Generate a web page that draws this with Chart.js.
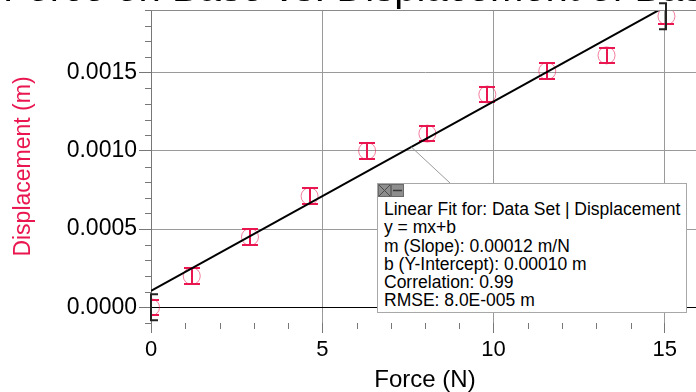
<!DOCTYPE html>
<html>
<head>
<meta charset="utf-8">
<script src="https://cdn.jsdelivr.net/npm/chart.js"></script>
<style>
  html, body { margin: 0; padding: 0; background: #fff; overflow: hidden; }
  #wrap { position: relative; width: 696px; height: 392px; overflow: hidden; }
  #plot { position: absolute; left: 0; top: 0; }
  #title { position: absolute; left: 3px; top: -33px; font: 40px "Liberation Sans", Arial, sans-serif; line-height: 40px; white-space: nowrap; color: #000; }
  #fitbox { position: absolute; left: 377px; top: 183px; width: 310px; height: 130px; box-sizing: border-box;
            border: 1px solid #a8a8a8; background: #fff; }
  #btns { position: absolute; left: 0; top: 0; height: 13px; }
  #fittext { position: absolute; left: 6px; top: 16px; font: 17.5px "Liberation Sans", Arial, sans-serif; line-height: 18.3px; color: #000; white-space: nowrap; }
</style>
</head>
<body>
<div id="wrap">
  <canvas id="plot" width="699" height="392"></canvas>
  <div id="title">Force on Base vs. Displacement of Base</div>
  <div id="fitbox">
    <div id="btns">
      <svg width="27" height="14" viewBox="0 0 27 14">
        <rect x="0.5" y="0.5" width="12" height="12" fill="#8e8e8e" stroke="#6a6a6a"/>
        <path d="M1 1 L12 12 M12 1 L1 12" stroke="#4a4a4a" stroke-width="1"/>
        <rect x="13.5" y="0.5" width="12" height="12" fill="#8e8e8e" stroke="#6a6a6a"/>
        <path d="M15 6.5 L24 6.5" stroke="#3a3a3a" stroke-width="1.5"/>
      </svg>
    </div>
    <div id="fittext"></div>
  </div>
</div>
<script>
// Data
const force = [0, 1.19, 2.89, 4.63, 6.31, 8.07, 9.82, 11.57, 13.3, 15.05];
const displacement = [0.0000, 0.00020, 0.00045, 0.00071, 0.00100, 0.00111, 0.00136, 0.00151, 0.00161, 0.00186];
const dispError = [0.00005, 0.00005, 0.00005, 0.00005, 0.00005, 0.00005, 0.00005, 0.00005, 0.00005, 0.00005];

// Linear fit  y = m x + b
const fitSlope = 0.000121;
const fitIntercept = 0.000105;
const fitX = [0, 15];
const fitLabelAt = 7.6;   // where the callout touches the fit line

const xTicks = [0, 5, 10, 15];
const xMinorTicks = [1, 2, 3, 4, 6, 7, 8, 9, 11, 12, 13, 14, 16];
const yTicks = [0, 0.0005, 0.0010, 0.0015];
const yMinorTicks = [-0.0001, 0.0001, 0.0002, 0.0003, 0.0004, 0.0006, 0.0007, 0.0008, 0.0009,
                     0.0011, 0.0012, 0.0013, 0.0014, 0.0016, 0.0017, 0.0018, 0.0019];

const fitLines = [
  'Linear Fit for: Data Set | Displacement',
  'y = mx+b',
  'm (Slope): 0.00012 m/N',
  'b (Y-Intercept): 0.00010 m',
  'Correlation: 0.99',
  'RMSE: 8.0E-005 m'
];

document.getElementById('fittext').innerHTML = fitLines.map(t => `<div>${t}</div>`).join('');

const RED = '#ea1650';
const FONT = '"Liberation Sans", Arial, sans-serif';

const extras = {
  id: 'extras',
  beforeDatasetsDraw(chart) {
    const {ctx, chartArea: a, scales: {x, y}} = chart;
    ctx.save();
    ctx.beginPath();
    ctx.rect(a.left, a.top, a.right - a.left, a.bottom - a.top);
    ctx.clip();
    ctx.strokeStyle = RED;
    ctx.lineWidth = 2;
    force.forEach((f, i) => {
      const px = Math.round(x.getPixelForValue(f));
      const top = Math.round(y.getPixelForValue(displacement[i] + dispError[i]));
      const bot = Math.round(y.getPixelForValue(displacement[i] - dispError[i]));
      ctx.beginPath();
      ctx.moveTo(px, top); ctx.lineTo(px, bot);
      ctx.moveTo(px - 8, top); ctx.lineTo(px + 8, top);
      ctx.moveTo(px - 8, bot); ctx.lineTo(px + 8, bot);
      ctx.stroke();
    });
    ctx.restore();
  },
  afterDraw(chart) {
    const {ctx, chartArea: a, scales: {x, y}} = chart;
    ctx.save();
    // top frame
    ctx.strokeStyle = '#8a8a8a';
    ctx.lineWidth = 1;
    ctx.beginPath();
    ctx.moveTo(a.left, a.top + 0.5); ctx.lineTo(a.right, a.top + 0.5);
    ctx.stroke();
    // minor ticks
    ctx.strokeStyle = '#777';
    ctx.beginPath();
    xMinorTicks.forEach(v => {
      const px = Math.round(x.getPixelForValue(v)) + 0.5;
      ctx.moveTo(px, a.bottom); ctx.lineTo(px, a.bottom + 6);
    });
    yMinorTicks.forEach(v => {
      const py = Math.round(y.getPixelForValue(v)) + 0.5;
      ctx.moveTo(a.left - 6, py); ctx.lineTo(a.left, py);
    });
    ctx.stroke();
    // callout line from the fit to the box
    ctx.strokeStyle = '#9a9a9a';
    ctx.beginPath();
    ctx.moveTo(x.getPixelForValue(fitLabelAt), y.getPixelForValue(fitIntercept + fitSlope * fitLabelAt));
    ctx.lineTo(450, 183);
    ctx.stroke();
    // fit range brackets
    ctx.strokeStyle = '#222';
    ctx.lineWidth = 2;
    const last = force.length - 1;
    [[0, 1], [last, -1]].forEach(([i, dir]) => {
      const px = Math.round(x.getPixelForValue(force[i]));
      const py = y.getPixelForValue(displacement[i]);
      ctx.beginPath();
      ctx.moveTo(px + dir * 7, py - 13);
      ctx.lineTo(px, py - 13);
      ctx.lineTo(px, py + 13);
      ctx.lineTo(px + dir * 7, py + 13);
      ctx.stroke();
    });
    ctx.restore();
  }
};

new Chart(document.getElementById('plot'), {
  data: {
    datasets: [
      {
        type: 'line',
        data: fitX.map(v => ({x: v, y: fitIntercept + fitSlope * v})),
        borderColor: '#000',
        borderWidth: 2,
        pointRadius: 0,
        clip: 0
      },
      {
        type: 'scatter',
        data: force.map((f, i) => ({x: f, y: displacement[i]})),
        pointRadius: 8.5,
        pointBorderWidth: 1,
        pointBorderColor: 'rgba(234, 22, 80, 0.55)',
        pointBackgroundColor: 'rgba(0,0,0,0)',
        clip: 0
      }
    ]
  },
  options: {
    responsive: false,
    animation: false,
    events: [],
    layout: { autoPadding: false, padding: { top: 10, right: 0, bottom: 0, left: 0 } },
    plugins: { legend: { display: false }, tooltip: { enabled: false } },
    scales: {
      x: {
        type: 'linear',
        min: 0,
        max: 16,
        afterBuildTicks: s => { s.ticks = xTicks.map(v => ({value: v})); },
        afterFit: s => { s.height = 69; s.paddingLeft = 0; s.paddingRight = 0; },
        grid: { color: '#9a9a9a', tickColor: '#777', tickLength: 10, lineWidth: 1 },
        border: { display: false },
        ticks: { color: '#000', font: { family: FONT, size: 22 }, padding: 4, maxRotation: 0, autoSkip: false },
        title: { display: true, text: 'Force (N)', color: '#000', font: { family: FONT, size: 24, lineHeight: 1 }, padding: { top: 0, bottom: 0 } }
      },
      y: {
        type: 'linear',
        min: -0.0001,
        max: 0.0019,
        afterBuildTicks: s => { s.ticks = yTicks.map(v => ({value: v})); },
        afterFit: s => { s.width = 151; s.paddingTop = 0; s.paddingBottom = 0; },
        grid: {
          color: c => (c.tick && c.tick.value === 0 ? '#000' : '#9a9a9a'),
          tickColor: '#777',
          tickLength: 12,
          lineWidth: 1
        },
        border: { display: true, color: '#777' },
        ticks: { color: '#000', font: { family: FONT, size: 23 }, padding: 2, callback: v => v.toFixed(4) },
        title: { display: true, text: 'Displacement (m)', color: RED, font: { family: FONT, size: 23 }, padding: { top: 10, bottom: 0 } }
      }
    }
  },
  plugins: [extras]
});
</script>
</body>
</html>
